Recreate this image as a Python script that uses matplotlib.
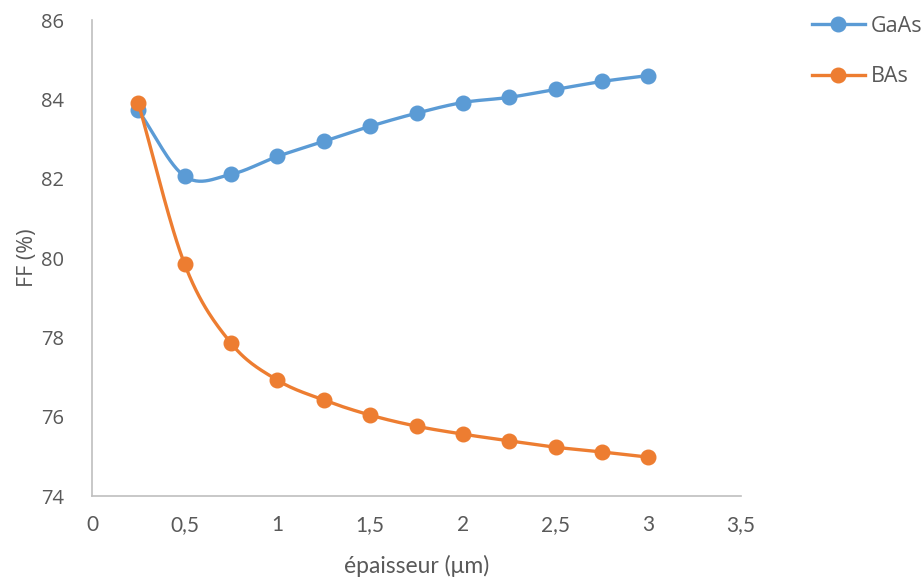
import numpy as np
import matplotlib
matplotlib.use("Agg")
import matplotlib.pyplot as plt

thickness = [0.25, 0.5, 0.75, 1.0, 1.25, 1.5, 1.75, 2.0, 2.25, 2.5, 2.75, 3.0]
ff_gaas = [83.72, 82.06, 82.11, 82.56, 82.94, 83.32, 83.65, 83.92, 84.05, 84.25, 84.45, 84.60]
ff_bas = [83.90, 79.84, 77.85, 76.92, 76.42, 76.04, 75.76, 75.56, 75.39, 75.23, 75.11, 74.98]
x_ticks = [0, 0.5, 1, 1.5, 2, 2.5, 3, 3.5]
x_tick_labels = ["0", "0,5", "1", "1,5", "2", "2,5", "3", "3,5"]
y_ticks = [74, 76, 78, 80, 82, 84, 86]


def smooth(x, y, n=30):
    # Catmull-Rom spline through the points (similar to Excel smoothed line)
    x = np.asarray(x, float); y = np.asarray(y, float)
    px = np.concatenate([[2 * x[0] - x[1]], x, [2 * x[-1] - x[-2]]])
    py = np.concatenate([[2 * y[0] - y[1]], y, [2 * y[-1] - y[-2]]])
    xs, ys = [], []
    t = np.linspace(0, 1, n)
    for i in range(1, len(px) - 2):
        for arr, out in ((px, xs), (py, ys)):
            p0, p1, p2, p3 = arr[i - 1], arr[i], arr[i + 1], arr[i + 2]
            out.extend(0.5 * ((2 * p1) + (-p0 + p2) * t + (2 * p0 - 5 * p1 + 4 * p2 - p3) * t ** 2
                              + (-p0 + 3 * p1 - 3 * p2 + p3) * t ** 3))
    return np.array(xs), np.array(ys)


blue = "#5B9BD5"
orange = "#ED7D31"
grey = "#595959"

fig = plt.figure(figsize=(9.22, 5.79), dpi=100)
ax = fig.add_axes([92 / 922, 1 - 496 / 579, (741 - 92) / 922, (496 - 20) / 579])

for y, c, lab in ((ff_gaas, blue, "GaAs"), (ff_bas, orange, "BAs")):
    sx, sy = smooth(thickness, y)
    ax.plot(sx, sy, color=c, lw=2.4, solid_capstyle="round")
    ax.plot(thickness, y, "o", color=c, ms=10.5)
    ax.plot([], [], color=c, lw=2.4, marker="o", ms=10.5, label=lab)

ax.set_xlim(0, 3.5)
ax.set_ylim(74, 86)
ax.set_xticks(x_ticks)
ax.set_xticklabels(x_tick_labels)
ax.set_yticks(y_ticks)
ax.tick_params(length=0, colors=grey)
ax.tick_params(axis="x", pad=14)
ax.tick_params(axis="y", pad=20)
for lbl in ax.get_xticklabels():
    lbl.set_family(["Lato", "DejaVu Sans"])
    lbl.set_fontsize(15)
for lbl in ax.get_yticklabels():
    lbl.set_family(["Open Sans", "DejaVu Sans"])
    lbl.set_fontsize(14.5)
for s in ("top", "right"):
    ax.spines[s].set_visible(False)
for s in ("left", "bottom"):
    ax.spines[s].set_color("#BFBFBF")
    ax.spines[s].set_linewidth(1.2)

ax.set_xlabel("épaisseur (μm)", fontsize=16.5, color=grey, labelpad=14,
              family=["Lato", "DejaVu Sans"])
ax.set_ylabel("FF (%)", fontsize=15.5, color=grey, labelpad=2,
              family=["Open Sans", "DejaVu Sans"])

leg = fig.legend(loc="upper left", bbox_to_anchor=(812 / 922, 1 - 16 / 579), frameon=False,
                 borderaxespad=0, borderpad=0,
                 handlelength=2.45, labelspacing=1.35, handletextpad=0.3,
                 prop={"family": ["Open Sans", "DejaVu Sans"], "size": 15.5})
for t in leg.get_texts():
    t.set_color(grey)

fig.savefig("out.png", dpi=100)
